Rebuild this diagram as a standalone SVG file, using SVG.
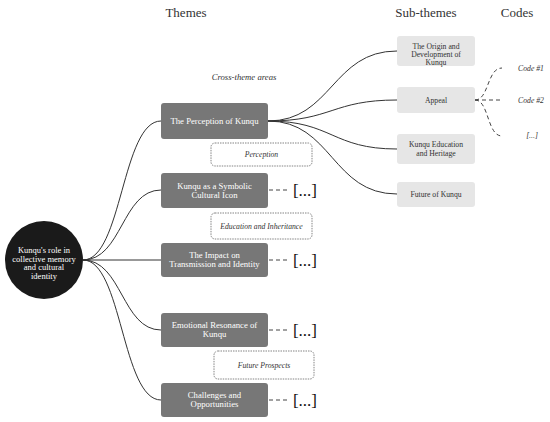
<svg xmlns="http://www.w3.org/2000/svg" width="550" height="422" viewBox="0 0 550 422">
<style>
text{font-family:"Liberation Serif","DejaVu Serif",serif;text-anchor:middle}
.hdr{font-size:13px;fill:#333}
.theme rect{fill:#777;rx:3px}
.theme text{fill:#fff;font-size:8.7px}
.sub rect{fill:#e6e6e6;rx:3px}
.sub text{fill:#333;font-size:7.7px}
.cross rect{fill:#fff;stroke:#666;stroke-width:0.8;stroke-dasharray:1.5 1;rx:4px}
.cross text{fill:#333;font-size:7.7px;font-style:italic}
.code{fill:#333;font-size:7.7px;font-style:italic}
.br{fill:#111;font-size:17px}
.c{fill:none;stroke:#333;stroke-width:1}
.d{fill:none;stroke:#444;stroke-width:1;stroke-dasharray:4 3}
</style>
<rect width="550" height="422" fill="#fff"/>
<text class="hdr" x="186" y="17">Themes</text>
<text class="hdr" x="426" y="17">Sub-themes</text>
<text class="hdr" x="517" y="17">Codes</text>
<text x="244" y="80" style="font-size:8.7px;font-style:italic;fill:#333">Cross-theme areas</text>
<g id="connectors">
<path class="c" d="M83,260 C122,260 122,121 161,121"/>
<path class="c" d="M83,260 C122,260 122,190 161,190"/>
<path class="c" d="M83,260 L161,260"/>
<path class="c" d="M83,260 C122,260 122,330 161,330"/>
<path class="c" d="M83,260 C122,260 122,400 161,400"/>
<path class="c" d="M268,121 C332,121 332,51 397,51"/>
<path class="c" d="M268,121 C332,121 332,100 397,100"/>
<path class="c" d="M268,121 C332,121 332,149 397,149"/>
<path class="c" d="M268,121 C332,121 332,194 397,194"/>
<path class="d" d="M475,100 C489,100 487,68 502,68"/>
<path class="d" d="M475,100 L502,100"/>
<path class="d" d="M475,100 C489,100 487,136 502,136"/>
<path class="d" d="M269,190 L288,190"/>
<path class="d" d="M269,260 L288,260"/>
<path class="d" d="M269,330 L288,330"/>
<path class="d" d="M269,400 L288,400"/>
</g>
<g id="root"><circle cx="44" cy="260" r="39" fill="#1a1a1a"/>
<text style="fill:#fff;font-size:8.5px"><tspan x="44" y="253">Kunqu's role in</tspan><tspan x="44" y="261.5">collective memory</tspan><tspan x="44" y="270">and cultural</tspan><tspan x="44" y="278.5">identity</tspan></text></g>
<g id="t1" class="theme"><rect x="161" y="103" width="107" height="36"/><text x="214.5" y="124">The Perception of Kunqu</text></g>
<g id="t2" class="theme"><rect x="161" y="173" width="107" height="35"/><text><tspan x="214.5" y="189">Kunqu as a Symbolic</tspan><tspan x="214.5" y="198">Cultural Icon</tspan></text></g>
<g id="t3" class="theme"><rect x="161" y="243" width="107" height="34"/><text><tspan x="214.5" y="258">The Impact on</tspan><tspan x="214.5" y="267">Transmission and Identity</tspan></text></g>
<g id="t4" class="theme"><rect x="161" y="313" width="107" height="34"/><text><tspan x="214.5" y="328">Emotional Resonance of</tspan><tspan x="214.5" y="337">Kunqu</tspan></text></g>
<g id="t5" class="theme"><rect x="161" y="383" width="107" height="34"/><text><tspan x="214.5" y="398">Challenges and</tspan><tspan x="214.5" y="407">Opportunities</tspan></text></g>
<g id="x1" class="cross"><rect x="211" y="143" width="101" height="23"/><text x="261.5" y="157">Perception</text></g>
<g id="x2" class="cross"><rect x="211" y="213" width="101" height="26"/><text x="261.5" y="229">Education and Inheritance</text></g>
<g id="x3" class="cross"><rect x="214" y="351" width="100" height="28"/><text x="264" y="368">Future Prospects</text></g>
<g id="b1"><text class="br" x="305" y="196">[...]</text></g>
<g id="b2"><text class="br" x="305" y="266">[...]</text></g>
<g id="b3"><text class="br" x="305" y="336">[...]</text></g>
<g id="b4"><text class="br" x="305" y="406">[...]</text></g>
<g id="s1" class="sub"><rect x="397" y="36" width="78" height="30"/><text><tspan x="436" y="49">The Origin and</tspan><tspan x="436" y="57">Development of</tspan><tspan x="436" y="65">Kunqu</tspan></text></g>
<g id="s2" class="sub"><rect x="397" y="87" width="78" height="26"/><text x="436" y="103">Appeal</text></g>
<g id="s3" class="sub"><rect x="397" y="134" width="78" height="30"/><text><tspan x="436" y="147">Kunqu Education</tspan><tspan x="436" y="156">and Heritage</tspan></text></g>
<g id="s4" class="sub"><rect x="397" y="182" width="78" height="25"/><text x="436" y="197">Future of Kunqu</text></g>
<g id="c1"><text class="code" x="531" y="71">Code #1</text></g>
<g id="c2"><text class="code" x="531" y="103">Code #2</text></g>
<g id="c3"><text class="code" x="532" y="138">[...]</text></g>
</svg>
